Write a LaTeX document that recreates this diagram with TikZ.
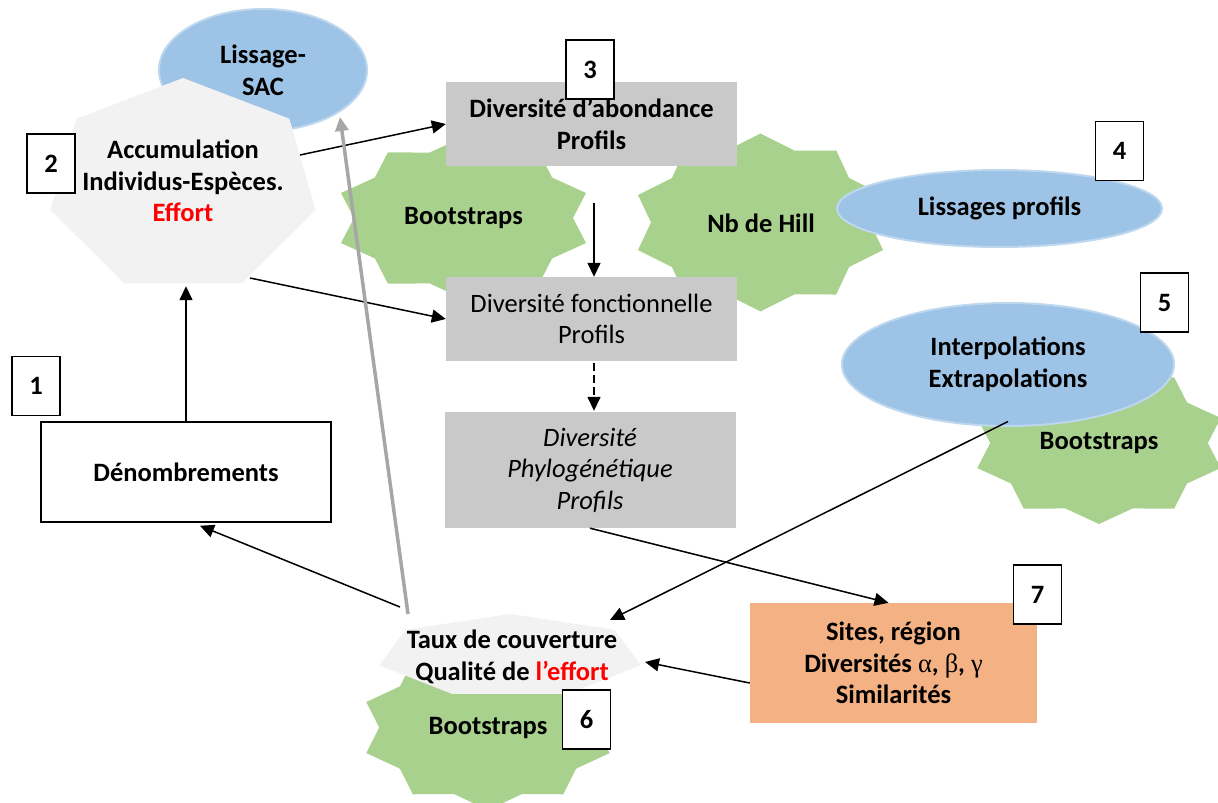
\documentclass[tikz,border=0pt]{standalone}
\usepackage{fontspec}
\setmainfont{Carlito}
\newfontfamily\grk{Liberation Serif}
\usetikzlibrary{shapes.geometric,arrows.meta,calc}
\definecolor{boxgray}{HTML}{C9C9C9}
\definecolor{heptgray}{HTML}{F2F2F2}
\definecolor{stargreen}{HTML}{A9D18E}
\definecolor{ellblue}{HTML}{9DC3E6}
\definecolor{ellborder}{HTML}{BDD7EE}
\definecolor{boxorange}{HTML}{F4B183}
\definecolor{arrowgray}{HTML}{A6A6A6}
\definecolor{effortred}{HTML}{FF0000}
\newcommand\bigf{\fontsize{26.5}{31.5}\selectfont}
% ten-point star: cx, cy, rx, ry
\newcommand\startenten[4]{\fill[stargreen] ({#1},{#2-#4}) \foreach \k in {1,...,19}{ -- ({#1+(0.925+0.075*cos(180*\k))*#3*cos(90-18*\k)},{#2-(0.925+0.075*cos(180*\k))*#4*sin(90-18*\k)}) } -- cycle;}
% heptagon: cx, cy, rx, ry
\newcommand\heptagone[4]{\fill[heptgray] ({#1},{#2-#4}) \foreach \k in {1,...,6}{ -- ({#1+#3*cos(90+360/7*\k)},{#2-#4*sin(90+360/7*\k)}) } -- cycle;}
\tikzset{
  graybox/.style={fill=boxgray, minimum width=291pt, minimum height=84pt, inner sep=0pt, align=center, font=\bigf},
  numbox/.style={draw, line width=1.5pt, fill=white, minimum width=48pt, minimum height=59pt, inner sep=0pt, font=\bigf\bfseries},
  blueell/.style={ellipse, fill=ellblue, draw=ellborder, line width=2pt, inner sep=0pt, align=center, font=\bigf\bfseries},
  lbl/.style={align=center, inner sep=0pt, font=\bigf\bfseries},
  arr/.style={-{Triangle[length=14pt,width=13pt]}, line width=1.5pt},
  grayarr/.style={-{Triangle[length=14pt,width=13pt]}, line width=3.5pt, draw=arrowgray},
}
\begin{document}
\begin{tikzpicture}[x=1pt,y=-1pt]
\useasboundingbox (0,0) rectangle (1218,803);
% Lissage-SAC ellipse
\node[blueell, minimum width=208pt, minimum height=122pt, text depth=0pt] (lis) at (263,70) {Lissage-\\SAC};
% Accumulation heptagon
\heptagone{183}{186}{136}{108}
\node[lbl, minimum width=265pt, minimum height=206pt] (acc) at (183,181) {Accumulation\\Individus-Espèces.\\\textcolor{effortred}{Effort}};
% stars
\startenten{463.5}{218}{128.8}{81}
\node[lbl] (boot1) at (463.5,218) {Bootstraps};
\startenten{760.5}{222.5}{128.8}{89}
\node[lbl] (hill) at (761,223) {Nb de Hill};
\startenten{1099}{443}{128}{81}
\startenten{488}{727.5}{128}{82.5}
\node[lbl] (boot3) at (488,728) {Bootstraps};
% Taux heptagon
\heptagone{510}{656}{134}{42}
\node[lbl, minimum width=261pt, minimum height=84pt] (taux) at (512,657) {Taux de couverture\\Qualité de \textcolor{effortred}{l’effort}};
% gray boxes
\node[graybox, font=\bigf\bfseries] (div3) at (591.5,124) {Diversité d’abondance\\Profils};
\node[graybox] (divf) at (591.5,319) {Diversité fonctionnelle\\Profils};
\node[graybox, minimum height=116pt, font=\bigf\itshape] (phylo) at (590,470) {Diversité\\Phylogénétique\\Profils};
% blue ellipses
\node[blueell, minimum width=325pt, minimum height=77pt] (lisp) at (999.5,208.5) {Lissages profils};
\node[blueell, minimum width=332pt, minimum height=123pt] (interp) at (1008,364.5) {Interpolations\\Extrapolations};
\node[lbl] (boot2) at (1099,443) {Bootstraps};
% other boxes
\node[draw, line width=1.5pt, fill=white, minimum width=290pt, minimum height=100pt, lbl] (den) at (186,472) {Dénombrements};
\node[fill=boxorange, minimum width=287pt, minimum height=120pt, lbl] (s7) at (893.5,663) {Sites, région\\Diversités {\mdseries\grk α}, {\mdseries\grk β}, {\mdseries\grk γ}\\Similarités};
% number boxes
\node[numbox] (n1) at (36,386) {1};
\node[numbox] (n2) at (51,163.5) {2};
\node[numbox] (n3) at (590,69.5) {3};
\node[numbox] (n4) at (1119.5,151) {4};
\node[numbox] (n5) at (1164.5,302.5) {5};
\node[numbox] (n6) at (586.5,719.5) {6};
\node[numbox] (n7) at (1037.5,594.5) {7};
% connectors
\draw[arr] (den.north) -- ($(acc.south)+(3,2)$);
\draw[arr] ($(acc.center)+(117,-26)$) -- (div3.west);
\draw[arr] ($(acc.center)+(67,97)$) -- (divf.west);
\draw[arr] ($(div3.south)+(2.5,37)$) -- ($(divf.north)+(2.5,0)$);
\draw[arr, dash pattern=on 8pt off 4pt] ($(divf.south)+(2.5,2)$) -- ($(phylo.north)+(4,-1)$);
\draw[arr] (phylo.south) -- ($(s7.north)+(-5,0)$);
\draw[arr] ($(taux.center)+(-112,-50)$) -- ($(den.south)+(14,3)$);
\draw[grayarr] ($(taux.center)+(-104,-43)$) -- ($(lis.center)+(77,47)$);
\draw[arr] ($(interp.center)+(0,57)$) -- ($(taux.center)+(98,-37)$);
\draw[arr] ($(s7.west)+(0,20)$) -- ($(taux.center)+(133,5)$);
\end{tikzpicture}
\end{document}
